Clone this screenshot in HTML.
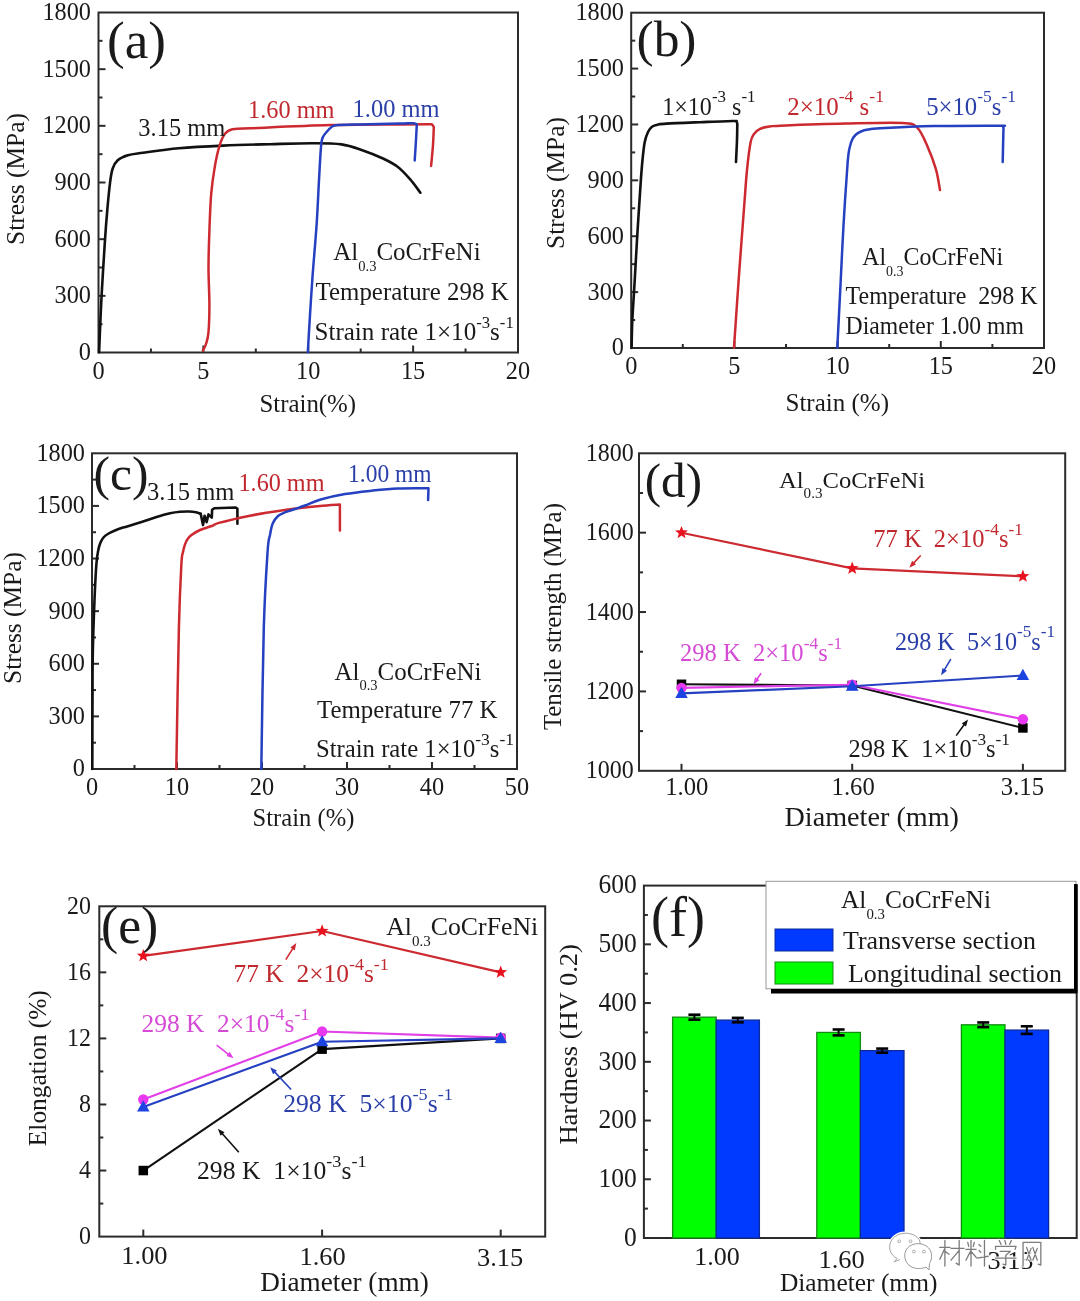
<!DOCTYPE html>
<html><head><meta charset="utf-8"><style>
html,body{margin:0;padding:0;background:#fff;}
svg{display:block;filter:blur(0.3px);}
text{font-family:"Liberation Serif", serif;}
</style></head><body>
<svg width="1080" height="1301" viewBox="0 0 1080 1301">
<rect width="1080" height="1301" fill="#fff"/>
<rect x="98.5" y="12.5" width="419.5" height="340.0" fill="none" stroke="#2b2b2b" stroke-width="2"/>
<line x1="98.50" y1="295.83" x2="105.50" y2="295.83" stroke="#2b2b2b" stroke-width="2"/>
<line x1="98.50" y1="239.17" x2="105.50" y2="239.17" stroke="#2b2b2b" stroke-width="2"/>
<line x1="98.50" y1="182.50" x2="105.50" y2="182.50" stroke="#2b2b2b" stroke-width="2"/>
<line x1="98.50" y1="125.83" x2="105.50" y2="125.83" stroke="#2b2b2b" stroke-width="2"/>
<line x1="98.50" y1="69.17" x2="105.50" y2="69.17" stroke="#2b2b2b" stroke-width="2"/>
<line x1="98.50" y1="324.17" x2="102.50" y2="324.17" stroke="#2b2b2b" stroke-width="2"/>
<line x1="98.50" y1="267.50" x2="102.50" y2="267.50" stroke="#2b2b2b" stroke-width="2"/>
<line x1="98.50" y1="210.83" x2="102.50" y2="210.83" stroke="#2b2b2b" stroke-width="2"/>
<line x1="98.50" y1="154.17" x2="102.50" y2="154.17" stroke="#2b2b2b" stroke-width="2"/>
<line x1="98.50" y1="97.50" x2="102.50" y2="97.50" stroke="#2b2b2b" stroke-width="2"/>
<line x1="98.50" y1="40.83" x2="102.50" y2="40.83" stroke="#2b2b2b" stroke-width="2"/>
<line x1="203.38" y1="352.50" x2="203.38" y2="345.50" stroke="#2b2b2b" stroke-width="2"/>
<line x1="308.25" y1="352.50" x2="308.25" y2="345.50" stroke="#2b2b2b" stroke-width="2"/>
<line x1="413.12" y1="352.50" x2="413.12" y2="345.50" stroke="#2b2b2b" stroke-width="2"/>
<line x1="150.94" y1="352.50" x2="150.94" y2="348.50" stroke="#2b2b2b" stroke-width="2"/>
<line x1="255.81" y1="352.50" x2="255.81" y2="348.50" stroke="#2b2b2b" stroke-width="2"/>
<line x1="360.69" y1="352.50" x2="360.69" y2="348.50" stroke="#2b2b2b" stroke-width="2"/>
<line x1="465.56" y1="352.50" x2="465.56" y2="348.50" stroke="#2b2b2b" stroke-width="2"/>
<text transform="translate(91.00,359.90) scale(1,1.03)" font-size="24.3" fill="#1a1a1a" text-anchor="end" >0</text>
<text transform="translate(91.00,303.23) scale(1,1.03)" font-size="24.3" fill="#1a1a1a" text-anchor="end" >300</text>
<text transform="translate(91.00,246.57) scale(1,1.03)" font-size="24.3" fill="#1a1a1a" text-anchor="end" >600</text>
<text transform="translate(91.00,189.90) scale(1,1.03)" font-size="24.3" fill="#1a1a1a" text-anchor="end" >900</text>
<text transform="translate(91.00,133.23) scale(1,1.03)" font-size="24.3" fill="#1a1a1a" text-anchor="end" >1200</text>
<text transform="translate(91.00,76.57) scale(1,1.03)" font-size="24.3" fill="#1a1a1a" text-anchor="end" >1500</text>
<text transform="translate(91.00,19.90) scale(1,1.03)" font-size="24.3" fill="#1a1a1a" text-anchor="end" >1800</text>
<text transform="translate(98.50,379.00) scale(1,1.03)" font-size="24.3" fill="#1a1a1a" text-anchor="middle" >0</text>
<text transform="translate(203.38,379.00) scale(1,1.03)" font-size="24.3" fill="#1a1a1a" text-anchor="middle" >5</text>
<text transform="translate(308.25,379.00) scale(1,1.03)" font-size="24.3" fill="#1a1a1a" text-anchor="middle" >10</text>
<text transform="translate(413.12,379.00) scale(1,1.03)" font-size="24.3" fill="#1a1a1a" text-anchor="middle" >15</text>
<text transform="translate(518.00,379.00) scale(1,1.03)" font-size="24.3" fill="#1a1a1a" text-anchor="middle" >20</text>
<text transform="translate(24,179) rotate(-90)" x="0" y="0" font-size="25" fill="#1a1a1a" text-anchor="middle" textLength="132" lengthAdjust="spacingAndGlyphs">Stress (MPa)</text>
<text transform="translate(259.40,411.70) scale(1,1.03)" font-size="25" fill="#1a1a1a" text-anchor="start" textLength="96.7" lengthAdjust="spacingAndGlyphs" >Strain(%)</text>
<text transform="translate(107.00,58.30) scale(1,1.03)" font-size="51.8" fill="#1a1a1a" text-anchor="start" textLength="59" lengthAdjust="spacingAndGlyphs" >(a)</text>
<path d="M99.10,352.20 C99.18,350.17 99.18,349.43 99.60,340.00 C100.02,330.57 100.70,312.30 101.60,295.60 C102.50,278.90 104.02,254.47 105.00,239.80 C105.98,225.13 106.65,217.18 107.50,207.60 C108.35,198.02 109.25,188.78 110.10,182.30 C110.95,175.82 111.33,172.37 112.60,168.70 C113.87,165.03 115.17,162.55 117.70,160.30 C120.23,158.05 123.58,156.47 127.80,155.20 C132.02,153.93 134.48,153.87 143.00,152.70 C151.52,151.53 165.52,149.38 178.90,148.20 C192.28,147.02 208.12,146.27 223.30,145.60 C238.48,144.93 255.18,144.58 270.00,144.20 C284.82,143.82 300.28,143.27 312.20,143.30 C324.12,143.33 333.15,143.25 341.50,144.40 C349.85,145.55 355.38,147.85 362.30,150.20 C369.22,152.55 377.12,155.73 383.00,158.50 C388.88,161.27 393.10,163.35 397.60,166.80 C402.10,170.25 406.20,174.88 410.00,179.20 C413.80,183.52 418.67,190.45 420.40,192.70" fill="none" stroke="#111" stroke-width="2.6" stroke-linejoin="round" stroke-linecap="round"/>
<path d="M202.90,350.60 C203.42,349.50 205.07,347.07 206.00,344.00 C206.93,340.93 207.93,338.78 208.50,332.20 C209.07,325.62 209.40,315.27 209.40,304.50 C209.40,293.73 208.50,279.90 208.50,267.60 C208.50,255.30 208.95,243.00 209.40,230.70 C209.85,218.40 210.28,204.57 211.20,193.80 C212.12,183.03 213.52,174.10 214.90,166.10 C216.28,158.10 217.82,151.18 219.50,145.80 C221.18,140.42 222.85,136.57 225.00,133.80 C227.15,131.03 228.23,130.12 232.40,129.20 C236.57,128.28 233.73,128.98 250.00,128.30 C266.27,127.62 305.00,125.75 330.00,125.10 C355.00,124.45 383.67,124.55 400.00,124.40 C416.33,124.25 422.67,124.17 428.00,124.20 C433.33,124.23 431.03,124.13 432.00,124.60 C432.97,125.07 433.50,126.60 433.80,127.00 C433.67,130.00 433.45,138.50 433.00,145.00 C432.55,151.50 431.42,162.50 431.10,166.00" fill="none" stroke="#cc2a30" stroke-width="2.5" stroke-linejoin="round" stroke-linecap="round"/>
<path d="M307.80,352.20 C308.17,346.00 309.22,327.57 310.00,315.00 C310.78,302.43 311.38,292.08 312.50,276.80 C313.62,261.52 315.62,239.43 316.70,223.30 C317.78,207.17 318.27,192.95 319.00,180.00 C319.73,167.05 320.43,152.77 321.10,145.60 C321.77,138.43 322.02,139.35 323.00,137.00 C323.98,134.65 325.67,133.08 327.00,131.50 C328.33,129.92 329.45,128.53 331.00,127.50 C332.55,126.47 331.47,125.82 336.30,125.30 C341.13,124.78 349.38,124.70 360.00,124.40 C370.62,124.10 391.08,123.70 400.00,123.50 C408.92,123.30 410.70,123.05 413.50,123.20 C416.30,123.35 416.25,124.20 416.80,124.40 C416.67,127.00 416.35,133.98 416.00,140.00 C415.65,146.02 414.92,157.08 414.70,160.50" fill="none" stroke="#2540c0" stroke-width="2.5" stroke-linejoin="round" stroke-linecap="round"/>
<text transform="translate(138.30,135.90) scale(1,1.03)" font-size="24" fill="#1a1a1a" text-anchor="start" textLength="87" lengthAdjust="spacingAndGlyphs" >3.15 mm</text>
<text transform="translate(248.00,118.10) scale(1,1.03)" font-size="24" fill="#c0282e" text-anchor="start" textLength="86.5" lengthAdjust="spacingAndGlyphs" >1.60 mm</text>
<text transform="translate(352.60,117.30) scale(1,1.03)" font-size="24" fill="#2a3fa8" text-anchor="start" textLength="87" lengthAdjust="spacingAndGlyphs" >1.00 mm</text>
<text transform="translate(333.20,260.20) scale(1,1.03)" font-size="24" fill="#1a1a1a" text-anchor="start" textLength="147.4" lengthAdjust="spacingAndGlyphs"><tspan dy="0" font-size="24">Al</tspan><tspan dy="10.5" font-size="14">0.3</tspan><tspan dy="-10.5" font-size="24">CoCrFeNi</tspan></text>
<text transform="translate(315.60,299.60) scale(1,1.03)" font-size="24" fill="#1a1a1a" text-anchor="start" textLength="193" lengthAdjust="spacingAndGlyphs" >Temperature 298 K</text>
<text transform="translate(314.50,340.10) scale(1,1.03)" font-size="24" fill="#1a1a1a" text-anchor="start" textLength="199.3" lengthAdjust="spacingAndGlyphs"><tspan dy="0" font-size="24">Strain rate 1×10</tspan><tspan dy="-12" font-size="16">-3</tspan><tspan dy="12" font-size="24">s</tspan><tspan dy="-12" font-size="16">-1</tspan></text>
<rect x="631.2" y="12.7" width="412.79999999999995" height="335.3" fill="none" stroke="#2b2b2b" stroke-width="2"/>
<line x1="631.20" y1="292.12" x2="638.20" y2="292.12" stroke="#2b2b2b" stroke-width="2"/>
<line x1="631.20" y1="236.23" x2="638.20" y2="236.23" stroke="#2b2b2b" stroke-width="2"/>
<line x1="631.20" y1="180.35" x2="638.20" y2="180.35" stroke="#2b2b2b" stroke-width="2"/>
<line x1="631.20" y1="124.47" x2="638.20" y2="124.47" stroke="#2b2b2b" stroke-width="2"/>
<line x1="631.20" y1="68.58" x2="638.20" y2="68.58" stroke="#2b2b2b" stroke-width="2"/>
<line x1="631.20" y1="320.06" x2="635.20" y2="320.06" stroke="#2b2b2b" stroke-width="2"/>
<line x1="631.20" y1="264.18" x2="635.20" y2="264.18" stroke="#2b2b2b" stroke-width="2"/>
<line x1="631.20" y1="208.29" x2="635.20" y2="208.29" stroke="#2b2b2b" stroke-width="2"/>
<line x1="631.20" y1="152.41" x2="635.20" y2="152.41" stroke="#2b2b2b" stroke-width="2"/>
<line x1="631.20" y1="96.53" x2="635.20" y2="96.53" stroke="#2b2b2b" stroke-width="2"/>
<line x1="631.20" y1="40.64" x2="635.20" y2="40.64" stroke="#2b2b2b" stroke-width="2"/>
<line x1="734.40" y1="348.00" x2="734.40" y2="341.00" stroke="#2b2b2b" stroke-width="2"/>
<line x1="837.60" y1="348.00" x2="837.60" y2="341.00" stroke="#2b2b2b" stroke-width="2"/>
<line x1="940.80" y1="348.00" x2="940.80" y2="341.00" stroke="#2b2b2b" stroke-width="2"/>
<line x1="682.80" y1="348.00" x2="682.80" y2="344.00" stroke="#2b2b2b" stroke-width="2"/>
<line x1="786.00" y1="348.00" x2="786.00" y2="344.00" stroke="#2b2b2b" stroke-width="2"/>
<line x1="889.20" y1="348.00" x2="889.20" y2="344.00" stroke="#2b2b2b" stroke-width="2"/>
<line x1="992.40" y1="348.00" x2="992.40" y2="344.00" stroke="#2b2b2b" stroke-width="2"/>
<text transform="translate(624.00,355.40) scale(1,1.03)" font-size="24.3" fill="#1a1a1a" text-anchor="end" >0</text>
<text transform="translate(624.00,299.52) scale(1,1.03)" font-size="24.3" fill="#1a1a1a" text-anchor="end" >300</text>
<text transform="translate(624.00,243.63) scale(1,1.03)" font-size="24.3" fill="#1a1a1a" text-anchor="end" >600</text>
<text transform="translate(624.00,187.75) scale(1,1.03)" font-size="24.3" fill="#1a1a1a" text-anchor="end" >900</text>
<text transform="translate(624.00,131.87) scale(1,1.03)" font-size="24.3" fill="#1a1a1a" text-anchor="end" >1200</text>
<text transform="translate(624.00,75.98) scale(1,1.03)" font-size="24.3" fill="#1a1a1a" text-anchor="end" >1500</text>
<text transform="translate(624.00,20.10) scale(1,1.03)" font-size="24.3" fill="#1a1a1a" text-anchor="end" >1800</text>
<text transform="translate(631.20,373.80) scale(1,1.03)" font-size="24.3" fill="#1a1a1a" text-anchor="middle" >0</text>
<text transform="translate(734.40,373.80) scale(1,1.03)" font-size="24.3" fill="#1a1a1a" text-anchor="middle" >5</text>
<text transform="translate(837.60,373.80) scale(1,1.03)" font-size="24.3" fill="#1a1a1a" text-anchor="middle" >10</text>
<text transform="translate(940.80,373.80) scale(1,1.03)" font-size="24.3" fill="#1a1a1a" text-anchor="middle" >15</text>
<text transform="translate(1044.00,373.80) scale(1,1.03)" font-size="24.3" fill="#1a1a1a" text-anchor="middle" >20</text>
<text transform="translate(563.5,183) rotate(-90)" x="0" y="0" font-size="25" fill="#1a1a1a" text-anchor="middle" textLength="132" lengthAdjust="spacingAndGlyphs">Stress (MPa)</text>
<text transform="translate(785.50,411.00) scale(1,1.03)" font-size="25" fill="#1a1a1a" text-anchor="start" textLength="103.5" lengthAdjust="spacingAndGlyphs" >Strain (%)</text>
<text transform="translate(636.50,56.30) scale(1,1.03)" font-size="49.7" fill="#1a1a1a" text-anchor="start" textLength="60" lengthAdjust="spacingAndGlyphs" >(b)</text>
<path d="M631.60,348.00 C631.72,343.47 631.85,330.88 632.30,320.80 C632.75,310.72 633.52,300.97 634.30,287.50 C635.08,274.03 635.95,257.28 637.00,240.00 C638.05,222.72 639.68,197.13 640.60,183.80 C641.52,170.47 641.82,166.92 642.50,160.00 C643.18,153.08 643.78,146.97 644.70,142.30 C645.62,137.63 646.78,134.60 648.00,132.00 C649.22,129.40 650.33,127.93 652.00,126.70 C653.67,125.47 655.58,125.12 658.00,124.60 C660.42,124.08 659.50,124.00 666.50,123.60 C673.50,123.20 688.92,122.63 700.00,122.20 C711.08,121.77 726.95,121.10 733.00,121.00 C739.05,120.90 735.58,121.18 736.30,121.60 C737.02,122.02 737.13,123.18 737.30,123.50 C737.25,126.25 737.22,133.58 737.00,140.00 C736.78,146.42 736.17,158.33 736.00,162.00" fill="none" stroke="#111" stroke-width="2.6" stroke-linejoin="round" stroke-linecap="round"/>
<path d="M734.00,347.70 C734.83,335.58 737.28,298.87 739.00,275.00 C740.72,251.13 742.97,222.00 744.30,204.50 C745.63,187.00 745.95,180.37 747.00,170.00 C748.05,159.63 749.43,148.30 750.60,142.30 C751.77,136.30 752.43,136.25 754.00,134.00 C755.57,131.75 757.33,130.05 760.00,128.80 C762.67,127.55 766.55,127.02 770.00,126.50 C773.45,125.98 768.20,126.18 780.70,125.70 C793.20,125.22 824.68,124.05 845.00,123.60 C865.32,123.15 890.57,122.32 902.60,123.00 C914.63,123.68 913.05,123.80 917.20,127.70 C921.35,131.60 924.38,139.48 927.50,146.40 C930.62,153.32 933.82,161.93 935.90,169.20 C937.98,176.47 939.32,186.53 940.00,190.00" fill="none" stroke="#cc2a30" stroke-width="2.5" stroke-linejoin="round" stroke-linecap="round"/>
<path d="M837.30,347.70 C837.83,337.25 839.47,305.40 840.50,285.00 C841.53,264.60 842.32,245.63 843.50,225.30 C844.68,204.97 846.55,176.05 847.60,163.00 C848.65,149.95 848.98,151.00 849.80,147.00 C850.62,143.00 851.47,141.08 852.50,139.00 C853.53,136.92 854.58,135.75 856.00,134.50 C857.42,133.25 859.00,132.32 861.00,131.50 C863.00,130.68 864.83,130.13 868.00,129.60 C871.17,129.07 869.03,128.88 880.00,128.30 C890.97,127.72 913.97,126.53 933.80,126.10 C953.63,125.67 987.55,125.68 999.00,125.70 C1010.45,125.72 1001.75,125.82 1002.50,126.20 C1003.25,126.58 1003.33,127.70 1003.50,128.00 C1003.45,130.00 1003.33,134.33 1003.20,140.00 C1003.07,145.67 1002.78,158.33 1002.70,162.00" fill="none" stroke="#2540c0" stroke-width="2.5" stroke-linejoin="round" stroke-linecap="round"/>
<text transform="translate(662.30,114.50) scale(1,1.03)" font-size="24" fill="#1a1a1a" text-anchor="start" textLength="93.3" lengthAdjust="spacingAndGlyphs"><tspan dy="0" font-size="24">1×10</tspan><tspan dy="-12" font-size="17">-3</tspan><tspan dy="12" font-size="24"> s</tspan><tspan dy="-12" font-size="17">-1</tspan></text>
<text transform="translate(787.20,114.50) scale(1,1.03)" font-size="24" fill="#c0282e" text-anchor="start" textLength="96.8" lengthAdjust="spacingAndGlyphs"><tspan dy="0" font-size="24">2×10</tspan><tspan dy="-12" font-size="17">-4</tspan><tspan dy="12" font-size="24"> s</tspan><tspan dy="-12" font-size="17">-1</tspan></text>
<text transform="translate(926.20,114.50) scale(1,1.03)" font-size="24" fill="#2a3fa8" text-anchor="start" textLength="89.8" lengthAdjust="spacingAndGlyphs"><tspan dy="0" font-size="24">5×10</tspan><tspan dy="-12" font-size="17">-5</tspan><tspan dy="12" font-size="24">s</tspan><tspan dy="-12" font-size="17">-1</tspan></text>
<text transform="translate(862.20,264.70) scale(1,1.03)" font-size="24" fill="#1a1a1a" text-anchor="start" textLength="141" lengthAdjust="spacingAndGlyphs"><tspan dy="0" font-size="24">Al</tspan><tspan dy="10.5" font-size="14">0.3</tspan><tspan dy="-10.5" font-size="24">CoCrFeNi</tspan></text>
<text transform="translate(845.60,304.20) scale(1,1.03)" font-size="24" fill="#1a1a1a" text-anchor="start" textLength="192" lengthAdjust="spacingAndGlyphs" >Temperature  298 K</text>
<text transform="translate(845.60,333.60) scale(1,1.03)" font-size="24" fill="#1a1a1a" text-anchor="start" textLength="178.4" lengthAdjust="spacingAndGlyphs" >Diameter 1.00 mm</text>
<rect x="92.0" y="453.3" width="425.0" height="315.7" fill="none" stroke="#2b2b2b" stroke-width="2"/>
<line x1="92.00" y1="716.38" x2="99.00" y2="716.38" stroke="#2b2b2b" stroke-width="2"/>
<line x1="92.00" y1="663.77" x2="99.00" y2="663.77" stroke="#2b2b2b" stroke-width="2"/>
<line x1="92.00" y1="611.15" x2="99.00" y2="611.15" stroke="#2b2b2b" stroke-width="2"/>
<line x1="92.00" y1="558.53" x2="99.00" y2="558.53" stroke="#2b2b2b" stroke-width="2"/>
<line x1="92.00" y1="505.92" x2="99.00" y2="505.92" stroke="#2b2b2b" stroke-width="2"/>
<line x1="92.00" y1="742.69" x2="96.00" y2="742.69" stroke="#2b2b2b" stroke-width="2"/>
<line x1="92.00" y1="690.08" x2="96.00" y2="690.08" stroke="#2b2b2b" stroke-width="2"/>
<line x1="92.00" y1="637.46" x2="96.00" y2="637.46" stroke="#2b2b2b" stroke-width="2"/>
<line x1="92.00" y1="584.84" x2="96.00" y2="584.84" stroke="#2b2b2b" stroke-width="2"/>
<line x1="92.00" y1="532.23" x2="96.00" y2="532.23" stroke="#2b2b2b" stroke-width="2"/>
<line x1="92.00" y1="479.61" x2="96.00" y2="479.61" stroke="#2b2b2b" stroke-width="2"/>
<line x1="177.00" y1="769.00" x2="177.00" y2="762.00" stroke="#2b2b2b" stroke-width="2"/>
<line x1="262.00" y1="769.00" x2="262.00" y2="762.00" stroke="#2b2b2b" stroke-width="2"/>
<line x1="347.00" y1="769.00" x2="347.00" y2="762.00" stroke="#2b2b2b" stroke-width="2"/>
<line x1="432.00" y1="769.00" x2="432.00" y2="762.00" stroke="#2b2b2b" stroke-width="2"/>
<line x1="134.50" y1="769.00" x2="134.50" y2="765.00" stroke="#2b2b2b" stroke-width="2"/>
<line x1="219.50" y1="769.00" x2="219.50" y2="765.00" stroke="#2b2b2b" stroke-width="2"/>
<line x1="304.50" y1="769.00" x2="304.50" y2="765.00" stroke="#2b2b2b" stroke-width="2"/>
<line x1="389.50" y1="769.00" x2="389.50" y2="765.00" stroke="#2b2b2b" stroke-width="2"/>
<line x1="474.50" y1="769.00" x2="474.50" y2="765.00" stroke="#2b2b2b" stroke-width="2"/>
<text transform="translate(85.00,776.40) scale(1,1.03)" font-size="24.3" fill="#1a1a1a" text-anchor="end" >0</text>
<text transform="translate(85.00,723.78) scale(1,1.03)" font-size="24.3" fill="#1a1a1a" text-anchor="end" >300</text>
<text transform="translate(85.00,671.17) scale(1,1.03)" font-size="24.3" fill="#1a1a1a" text-anchor="end" >600</text>
<text transform="translate(85.00,618.55) scale(1,1.03)" font-size="24.3" fill="#1a1a1a" text-anchor="end" >900</text>
<text transform="translate(85.00,565.93) scale(1,1.03)" font-size="24.3" fill="#1a1a1a" text-anchor="end" >1200</text>
<text transform="translate(85.00,513.32) scale(1,1.03)" font-size="24.3" fill="#1a1a1a" text-anchor="end" >1500</text>
<text transform="translate(85.00,460.70) scale(1,1.03)" font-size="24.3" fill="#1a1a1a" text-anchor="end" >1800</text>
<text transform="translate(92.00,795.00) scale(1,1.03)" font-size="24.3" fill="#1a1a1a" text-anchor="middle" >0</text>
<text transform="translate(177.00,795.00) scale(1,1.03)" font-size="24.3" fill="#1a1a1a" text-anchor="middle" >10</text>
<text transform="translate(262.00,795.00) scale(1,1.03)" font-size="24.3" fill="#1a1a1a" text-anchor="middle" >20</text>
<text transform="translate(347.00,795.00) scale(1,1.03)" font-size="24.3" fill="#1a1a1a" text-anchor="middle" >30</text>
<text transform="translate(432.00,795.00) scale(1,1.03)" font-size="24.3" fill="#1a1a1a" text-anchor="middle" >40</text>
<text transform="translate(517.00,795.00) scale(1,1.03)" font-size="24.3" fill="#1a1a1a" text-anchor="middle" >50</text>
<text transform="translate(21,618) rotate(-90)" x="0" y="0" font-size="25" fill="#1a1a1a" text-anchor="middle" textLength="132" lengthAdjust="spacingAndGlyphs">Stress (MPa)</text>
<text transform="translate(252.60,826.20) scale(1,1.03)" font-size="25" fill="#1a1a1a" text-anchor="start" textLength="101.8" lengthAdjust="spacingAndGlyphs" >Strain (%)</text>
<text transform="translate(93.60,490.30) scale(1,1.03)" font-size="48" fill="#1a1a1a" text-anchor="start" textLength="55" lengthAdjust="spacingAndGlyphs" >(c)</text>
<path d="M92.30,769.00 C92.33,757.50 92.42,719.33 92.50,700.00 C92.58,680.67 92.47,669.67 92.80,653.00 C93.13,636.33 93.90,614.83 94.50,600.00 C95.10,585.17 95.77,572.33 96.40,564.00 C97.03,555.67 97.62,553.58 98.30,550.00 C98.98,546.42 99.63,544.58 100.50,542.50 C101.37,540.42 102.28,538.92 103.50,537.50 C104.72,536.08 105.88,535.17 107.80,534.00 C109.72,532.83 112.47,531.57 115.00,530.50 C117.53,529.43 119.67,528.68 123.00,527.60 C126.33,526.52 130.77,525.30 135.00,524.00 C139.23,522.70 144.23,521.13 148.40,519.80 C152.57,518.47 156.40,517.08 160.00,516.00 C163.60,514.92 166.67,514.00 170.00,513.30 C173.33,512.60 176.83,512.10 180.00,511.80 C183.17,511.50 186.33,511.42 189.00,511.50 C191.67,511.58 194.05,511.92 196.00,512.30 C197.95,512.68 199.92,513.55 200.70,513.80" fill="none" stroke="#111" stroke-width="2.6" stroke-linejoin="round" stroke-linecap="round"/>
<path d="M200.70,513.80 L203.00,525.10 L204.60,515.70 L206.60,522.20 L208.50,514.40 L210.50,516.40 L211.80,517.70 L212.10,509.90 L214.30,508.30 L235.70,507.50 L237.40,508.50 L237.40,523.80" fill="none" stroke="#111" stroke-width="2.6" stroke-linejoin="round" stroke-linecap="round"/>
<path d="M176.30,769.00 C176.73,745.43 178.05,661.73 178.90,627.60 C179.75,593.47 180.72,576.80 181.40,564.20 C182.08,551.60 182.37,555.38 183.00,552.00 C183.63,548.62 184.37,546.15 185.20,543.90 C186.03,541.65 186.95,539.98 188.00,538.50 C189.05,537.02 189.50,536.42 191.50,535.00 C193.50,533.58 196.62,531.50 200.00,530.00 C203.38,528.50 208.65,527.18 211.80,526.00 C214.95,524.82 212.53,524.62 218.90,522.90 C225.27,521.18 240.65,517.60 250.00,515.70 C259.35,513.80 266.63,512.78 275.00,511.50 C283.37,510.22 292.70,508.92 300.20,508.00 C307.70,507.08 313.38,506.57 320.00,506.00 C326.62,505.43 336.58,504.83 339.90,504.60 C339.90,508.92 339.90,526.18 339.90,530.50" fill="none" stroke="#cc2a30" stroke-width="2.5" stroke-linejoin="round" stroke-linecap="round"/>
<path d="M261.30,769.00 C261.72,745.43 262.75,663.85 263.80,627.60 C264.85,591.35 266.57,566.93 267.60,551.50 C268.63,536.07 269.15,539.65 270.00,535.00 C270.85,530.35 271.37,526.77 272.70,523.60 C274.03,520.43 275.88,517.90 278.00,516.00 C280.12,514.10 282.57,513.37 285.40,512.20 C288.23,511.03 291.73,510.12 295.00,509.00 C298.27,507.88 300.73,507.08 305.00,505.50 C309.27,503.92 313.93,501.42 320.60,499.50 C327.27,497.58 336.52,495.47 345.00,494.00 C353.48,492.53 362.67,491.62 371.50,490.70 C380.33,489.78 388.50,488.90 398.00,488.50 C407.50,488.10 423.42,488.33 428.50,488.30 C428.43,490.23 428.17,497.97 428.10,499.90" fill="none" stroke="#2540c0" stroke-width="2.5" stroke-linejoin="round" stroke-linecap="round"/>
<text transform="translate(147.00,499.80) scale(1,1.03)" font-size="24" fill="#1a1a1a" text-anchor="start" textLength="87.5" lengthAdjust="spacingAndGlyphs" >3.15 mm</text>
<text transform="translate(238.50,490.60) scale(1,1.03)" font-size="24" fill="#c0282e" text-anchor="start" textLength="86" lengthAdjust="spacingAndGlyphs" >1.60 mm</text>
<text transform="translate(348.00,482.20) scale(1,1.03)" font-size="24" fill="#2a3fa8" text-anchor="start" textLength="83.6" lengthAdjust="spacingAndGlyphs" >1.00 mm</text>
<text transform="translate(334.50,679.50) scale(1,1.03)" font-size="24" fill="#1a1a1a" text-anchor="start" textLength="147" lengthAdjust="spacingAndGlyphs"><tspan dy="0" font-size="24">Al</tspan><tspan dy="10.5" font-size="14">0.3</tspan><tspan dy="-10.5" font-size="24">CoCrFeNi</tspan></text>
<text transform="translate(317.00,718.20) scale(1,1.03)" font-size="24" fill="#1a1a1a" text-anchor="start" textLength="180.5" lengthAdjust="spacingAndGlyphs" >Temperature 77 K</text>
<text transform="translate(316.00,757.00) scale(1,1.03)" font-size="24" fill="#1a1a1a" text-anchor="start" textLength="198" lengthAdjust="spacingAndGlyphs"><tspan dy="0" font-size="24">Strain rate 1×10</tspan><tspan dy="-12" font-size="17">-3</tspan><tspan dy="12" font-size="24">s</tspan><tspan dy="-12" font-size="17">-1</tspan></text>
<rect x="639.0" y="453.3" width="426.20000000000005" height="317.49999999999994" fill="none" stroke="#2b2b2b" stroke-width="2"/>
<line x1="639.00" y1="691.42" x2="646.00" y2="691.42" stroke="#2b2b2b" stroke-width="2"/>
<line x1="639.00" y1="612.05" x2="646.00" y2="612.05" stroke="#2b2b2b" stroke-width="2"/>
<line x1="639.00" y1="532.67" x2="646.00" y2="532.67" stroke="#2b2b2b" stroke-width="2"/>
<line x1="639.00" y1="731.11" x2="643.00" y2="731.11" stroke="#2b2b2b" stroke-width="2"/>
<line x1="639.00" y1="651.74" x2="643.00" y2="651.74" stroke="#2b2b2b" stroke-width="2"/>
<line x1="639.00" y1="572.36" x2="643.00" y2="572.36" stroke="#2b2b2b" stroke-width="2"/>
<line x1="639.00" y1="492.99" x2="643.00" y2="492.99" stroke="#2b2b2b" stroke-width="2"/>
<line x1="681.50" y1="770.80" x2="681.50" y2="763.80" stroke="#2b2b2b" stroke-width="2"/>
<line x1="852.20" y1="770.80" x2="852.20" y2="763.80" stroke="#2b2b2b" stroke-width="2"/>
<line x1="1022.90" y1="770.80" x2="1022.90" y2="763.80" stroke="#2b2b2b" stroke-width="2"/>
<text transform="translate(633.80,778.40) scale(1,1.03)" font-size="24.0" fill="#1a1a1a" text-anchor="end" >1000</text>
<text transform="translate(633.80,699.02) scale(1,1.03)" font-size="24.0" fill="#1a1a1a" text-anchor="end" >1200</text>
<text transform="translate(633.80,619.65) scale(1,1.03)" font-size="24.0" fill="#1a1a1a" text-anchor="end" >1400</text>
<text transform="translate(633.80,540.27) scale(1,1.03)" font-size="24.0" fill="#1a1a1a" text-anchor="end" >1600</text>
<text transform="translate(633.80,460.90) scale(1,1.03)" font-size="24.0" fill="#1a1a1a" text-anchor="end" >1800</text>
<text transform="translate(665.20,794.70) scale(1,1.03)" font-size="24" fill="#1a1a1a" text-anchor="start" textLength="43.2" lengthAdjust="spacingAndGlyphs" >1.00</text>
<text transform="translate(831.60,794.70) scale(1,1.03)" font-size="24" fill="#1a1a1a" text-anchor="start" textLength="43.2" lengthAdjust="spacingAndGlyphs" >1.60</text>
<text transform="translate(1000.80,794.70) scale(1,1.03)" font-size="24" fill="#1a1a1a" text-anchor="start" textLength="43.2" lengthAdjust="spacingAndGlyphs" >3.15</text>
<text transform="translate(560.5,616.6) rotate(-90)" x="0" y="0" font-size="25" fill="#1a1a1a" text-anchor="middle" textLength="227" lengthAdjust="spacingAndGlyphs">Tensile strength (MPa)</text>
<text transform="translate(784.50,825.70) scale(1,1.03)" font-size="26" fill="#1a1a1a" text-anchor="start" textLength="174.5" lengthAdjust="spacingAndGlyphs" >Diameter (mm)</text>
<text transform="translate(644.70,496.90) scale(1,1.03)" font-size="48" fill="#1a1a1a" text-anchor="start" textLength="57.3" lengthAdjust="spacingAndGlyphs" >(d)</text>
<text transform="translate(779.00,487.50) scale(1,1.03)" font-size="22" fill="#1a1a1a" text-anchor="start" textLength="146" lengthAdjust="spacingAndGlyphs"><tspan dy="0" font-size="22">Al</tspan><tspan dy="10" font-size="13.5">0.3</tspan><tspan dy="-10" font-size="22">CoCrFeNi</tspan></text>
<path d="M681.50,532.67 L852.20,568.39 L1022.90,576.33" fill="none" stroke="#cc2a30" stroke-width="2.1" stroke-linejoin="round" stroke-linecap="round"/>
<polygon points="681.50,525.88 683.18,530.36 687.97,530.57 684.22,533.56 685.50,538.18 681.50,535.53 677.50,538.18 678.78,533.56 675.03,530.57 679.82,530.36" fill="#e8121e"/>
<polygon points="852.20,561.59 853.88,566.08 858.67,566.29 854.92,569.28 856.20,573.90 852.20,571.25 848.20,573.90 849.48,569.28 845.73,566.29 850.52,566.08" fill="#e8121e"/>
<polygon points="1022.90,569.53 1024.58,574.02 1029.37,574.23 1025.62,577.21 1026.90,581.83 1022.90,579.19 1018.90,581.83 1020.18,577.21 1016.43,574.23 1021.22,574.02" fill="#e8121e"/>
<path d="M681.50,684.28 L852.20,685.47 L1022.90,727.94" fill="none" stroke="#111" stroke-width="2.1" stroke-linejoin="round" stroke-linecap="round"/>
<rect x="676.75" y="679.53" width="9.5" height="9.5" fill="#000"/>
<rect x="847.45" y="680.72" width="9.5" height="9.5" fill="#000"/>
<rect x="1018.15" y="723.19" width="9.5" height="9.5" fill="#000"/>
<path d="M681.50,687.85 L852.20,684.68 L1022.90,719.21" fill="none" stroke="#e040e6" stroke-width="2.1" stroke-linejoin="round" stroke-linecap="round"/>
<circle cx="681.50" cy="687.85" r="5.2" fill="#e838f0"/>
<circle cx="852.20" cy="684.68" r="5.2" fill="#e838f0"/>
<circle cx="1022.90" cy="719.21" r="5.2" fill="#e838f0"/>
<path d="M681.50,693.41 L852.20,686.27 L1022.90,675.55" fill="none" stroke="#2540c0" stroke-width="2.1" stroke-linejoin="round" stroke-linecap="round"/>
<polygon points="681.50,686.66 687.75,697.91 675.25,697.91" fill="#1d44e0"/>
<polygon points="852.20,679.52 858.45,690.77 845.95,690.77" fill="#1d44e0"/>
<polygon points="1022.90,668.80 1029.15,680.05 1016.65,680.05" fill="#1d44e0"/>
<text transform="translate(873.30,547.30) scale(1,1.03)" font-size="24" fill="#c0282e" text-anchor="start" textLength="149.6" lengthAdjust="spacingAndGlyphs"><tspan dy="0" font-size="24">77 K  2×10</tspan><tspan dy="-12" font-size="17">-4</tspan><tspan dy="12" font-size="24">s</tspan><tspan dy="-12" font-size="17">-1</tspan></text>
<line x1="920.70" y1="555.50" x2="913.38" y2="563.40" stroke="#cc2a30" stroke-width="1.6"/>
<polygon points="909.30,567.80 912.11,560.86 916.01,564.47" fill="#cc2a30"/>
<text transform="translate(894.90,649.50) scale(1,1.03)" font-size="24" fill="#2a3fa8" text-anchor="start" textLength="160.2" lengthAdjust="spacingAndGlyphs"><tspan dy="0" font-size="24">298 K  5×10</tspan><tspan dy="-12" font-size="17">-5</tspan><tspan dy="12" font-size="24">s</tspan><tspan dy="-12" font-size="17">-1</tspan></text>
<line x1="950.80" y1="659.20" x2="944.20" y2="670.16" stroke="#2540c0" stroke-width="1.6"/>
<polygon points="941.10,675.30 942.43,667.93 946.99,670.68" fill="#2540c0"/>
<text transform="translate(680.00,661.10) scale(1,1.03)" font-size="24" fill="#d54bd5" text-anchor="start" textLength="162.2" lengthAdjust="spacingAndGlyphs"><tspan dy="0" font-size="24">298 K  2×10</tspan><tspan dy="-12" font-size="17">-4</tspan><tspan dy="12" font-size="24">s</tspan><tspan dy="-12" font-size="17">-1</tspan></text>
<line x1="761.10" y1="673.30" x2="756.75" y2="679.49" stroke="#e040e6" stroke-width="1.6"/>
<polygon points="753.30,684.40 755.15,677.14 759.50,680.20" fill="#e040e6"/>
<text transform="translate(848.60,757.10) scale(1,1.03)" font-size="24" fill="#1a1a1a" text-anchor="start" textLength="161.4" lengthAdjust="spacingAndGlyphs"><tspan dy="0" font-size="24">298 K  1×10</tspan><tspan dy="-12" font-size="17">-3</tspan><tspan dy="12" font-size="24">s</tspan><tspan dy="-12" font-size="17">-1</tspan></text>
<line x1="956.20" y1="735.60" x2="964.47" y2="724.25" stroke="#111" stroke-width="1.6"/>
<polygon points="968.00,719.40 966.03,726.62 961.73,723.49" fill="#111"/>
<rect x="99.3" y="906.3" width="445.90000000000003" height="330.29999999999995" fill="none" stroke="#2b2b2b" stroke-width="2"/>
<line x1="99.30" y1="1170.54" x2="106.30" y2="1170.54" stroke="#2b2b2b" stroke-width="2"/>
<line x1="99.30" y1="1104.48" x2="106.30" y2="1104.48" stroke="#2b2b2b" stroke-width="2"/>
<line x1="99.30" y1="1038.42" x2="106.30" y2="1038.42" stroke="#2b2b2b" stroke-width="2"/>
<line x1="99.30" y1="972.36" x2="106.30" y2="972.36" stroke="#2b2b2b" stroke-width="2"/>
<line x1="99.30" y1="1203.57" x2="103.30" y2="1203.57" stroke="#2b2b2b" stroke-width="2"/>
<line x1="99.30" y1="1137.51" x2="103.30" y2="1137.51" stroke="#2b2b2b" stroke-width="2"/>
<line x1="99.30" y1="1071.45" x2="103.30" y2="1071.45" stroke="#2b2b2b" stroke-width="2"/>
<line x1="99.30" y1="1005.39" x2="103.30" y2="1005.39" stroke="#2b2b2b" stroke-width="2"/>
<line x1="99.30" y1="939.33" x2="103.30" y2="939.33" stroke="#2b2b2b" stroke-width="2"/>
<line x1="143.30" y1="1236.60" x2="143.30" y2="1229.60" stroke="#2b2b2b" stroke-width="2"/>
<line x1="322.10" y1="1236.60" x2="322.10" y2="1229.60" stroke="#2b2b2b" stroke-width="2"/>
<line x1="500.70" y1="1236.60" x2="500.70" y2="1229.60" stroke="#2b2b2b" stroke-width="2"/>
<text transform="translate(90.90,1244.10) scale(1,1.03)" font-size="24.0" fill="#1a1a1a" text-anchor="end" >0</text>
<text transform="translate(90.90,1178.04) scale(1,1.03)" font-size="24.0" fill="#1a1a1a" text-anchor="end" >4</text>
<text transform="translate(90.90,1111.98) scale(1,1.03)" font-size="24.0" fill="#1a1a1a" text-anchor="end" >8</text>
<text transform="translate(90.90,1045.92) scale(1,1.03)" font-size="24.0" fill="#1a1a1a" text-anchor="end" >12</text>
<text transform="translate(90.90,979.86) scale(1,1.03)" font-size="24.0" fill="#1a1a1a" text-anchor="end" >16</text>
<text transform="translate(90.90,913.80) scale(1,1.03)" font-size="24.0" fill="#1a1a1a" text-anchor="end" >20</text>
<text transform="translate(121.30,1263.50) scale(1,1.03)" font-size="25" fill="#1a1a1a" text-anchor="start" textLength="46.3" lengthAdjust="spacingAndGlyphs" >1.00</text>
<text transform="translate(299.40,1264.80) scale(1,1.03)" font-size="25" fill="#1a1a1a" text-anchor="start" textLength="46.3" lengthAdjust="spacingAndGlyphs" >1.60</text>
<text transform="translate(477.00,1266.00) scale(1,1.03)" font-size="25" fill="#1a1a1a" text-anchor="start" textLength="46.3" lengthAdjust="spacingAndGlyphs" >3.15</text>
<text transform="translate(45.8,1068.2) rotate(-90)" x="0" y="0" font-size="25" fill="#1a1a1a" text-anchor="middle" textLength="156" lengthAdjust="spacingAndGlyphs">Elongation (%)</text>
<text transform="translate(260.30,1290.90) scale(1,1.03)" font-size="26" fill="#1a1a1a" text-anchor="start" textLength="168.5" lengthAdjust="spacingAndGlyphs" >Diameter (mm)</text>
<text transform="translate(101.00,943.40) scale(1,1.03)" font-size="51.4" fill="#1a1a1a" text-anchor="start" textLength="57.3" lengthAdjust="spacingAndGlyphs" >(e)</text>
<text transform="translate(386.20,935.30) scale(1,1.03)" font-size="24" fill="#1a1a1a" text-anchor="start" textLength="152" lengthAdjust="spacingAndGlyphs"><tspan dy="0" font-size="24">Al</tspan><tspan dy="10.5" font-size="14">0.3</tspan><tspan dy="-10.5" font-size="24">CoCrFeNi</tspan></text>
<path d="M143.30,955.84 L322.10,931.07 L500.70,972.36" fill="none" stroke="#cc2a30" stroke-width="2.1" stroke-linejoin="round" stroke-linecap="round"/>
<polygon points="143.30,949.04 144.98,953.53 149.77,953.74 146.02,956.73 147.30,961.35 143.30,958.70 139.30,961.35 140.58,956.73 136.83,953.74 141.62,953.53" fill="#e8121e"/>
<polygon points="322.10,924.27 323.78,928.76 328.57,928.97 324.82,931.96 326.10,936.57 322.10,933.93 318.10,936.57 319.38,931.96 315.63,928.97 320.42,928.76" fill="#e8121e"/>
<polygon points="500.70,965.56 502.38,970.05 507.17,970.26 503.42,973.24 504.70,977.86 500.70,975.22 496.70,977.86 497.98,973.24 494.23,970.26 499.02,970.05" fill="#e8121e"/>
<path d="M143.30,1170.54 L322.10,1049.15 L500.70,1038.42" fill="none" stroke="#111" stroke-width="2.1" stroke-linejoin="round" stroke-linecap="round"/>
<rect x="138.55" y="1165.79" width="9.5" height="9.5" fill="#000"/>
<rect x="317.35" y="1044.40" width="9.5" height="9.5" fill="#000"/>
<rect x="495.95" y="1033.67" width="9.5" height="9.5" fill="#000"/>
<path d="M143.30,1099.53 L322.10,1031.48 L500.70,1037.59" fill="none" stroke="#e040e6" stroke-width="2.1" stroke-linejoin="round" stroke-linecap="round"/>
<circle cx="143.30" cy="1099.53" r="5.2" fill="#e838f0"/>
<circle cx="322.10" cy="1031.48" r="5.2" fill="#e838f0"/>
<circle cx="500.70" cy="1037.59" r="5.2" fill="#e838f0"/>
<path d="M143.30,1106.96 L322.10,1041.72 L500.70,1038.42" fill="none" stroke="#2540c0" stroke-width="2.1" stroke-linejoin="round" stroke-linecap="round"/>
<polygon points="143.30,1100.21 149.55,1111.46 137.05,1111.46" fill="#1d44e0"/>
<polygon points="322.10,1034.97 328.35,1046.22 315.85,1046.22" fill="#1d44e0"/>
<polygon points="500.70,1031.67 506.95,1042.92 494.45,1042.92" fill="#1d44e0"/>
<text transform="translate(233.60,982.40) scale(1,1.03)" font-size="24" fill="#c0282e" text-anchor="start" textLength="155.2" lengthAdjust="spacingAndGlyphs"><tspan dy="0" font-size="24">77 K  2×10</tspan><tspan dy="-12" font-size="17">-4</tspan><tspan dy="12" font-size="24">s</tspan><tspan dy="-12" font-size="17">-1</tspan></text>
<line x1="285.80" y1="959.60" x2="293.08" y2="948.16" stroke="#cc2a30" stroke-width="1.6"/>
<polygon points="296.30,943.10 294.79,950.43 290.30,947.58" fill="#cc2a30"/>
<text transform="translate(141.50,1032.00) scale(1,1.03)" font-size="24" fill="#d54bd5" text-anchor="start" textLength="167.9" lengthAdjust="spacingAndGlyphs"><tspan dy="0" font-size="24">298 K  2×10</tspan><tspan dy="-12" font-size="17">-4</tspan><tspan dy="12" font-size="24">s</tspan><tspan dy="-12" font-size="17">-1</tspan></text>
<line x1="216.60" y1="1045.10" x2="228.85" y2="1054.54" stroke="#e040e6" stroke-width="1.6"/>
<polygon points="233.60,1058.20 226.43,1056.03 229.68,1051.82" fill="#e040e6"/>
<text transform="translate(283.20,1112.40) scale(1,1.03)" font-size="24" fill="#2a3fa8" text-anchor="start" textLength="169.6" lengthAdjust="spacingAndGlyphs"><tspan dy="0" font-size="24">298 K  5×10</tspan><tspan dy="-12" font-size="17">-5</tspan><tspan dy="12" font-size="24">s</tspan><tspan dy="-12" font-size="17">-1</tspan></text>
<line x1="291.10" y1="1089.50" x2="274.31" y2="1071.67" stroke="#2540c0" stroke-width="1.6"/>
<polygon points="270.20,1067.30 276.94,1070.57 273.06,1074.22" fill="#2540c0"/>
<text transform="translate(197.00,1179.40) scale(1,1.03)" font-size="24" fill="#1a1a1a" text-anchor="start" textLength="169.6" lengthAdjust="spacingAndGlyphs"><tspan dy="0" font-size="24">298 K  1×10</tspan><tspan dy="-12" font-size="17">-3</tspan><tspan dy="12" font-size="24">s</tspan><tspan dy="-12" font-size="17">-1</tspan></text>
<line x1="238.80" y1="1152.30" x2="221.89" y2="1133.28" stroke="#111" stroke-width="1.6"/>
<polygon points="217.90,1128.80 224.54,1132.26 220.56,1135.80" fill="#111"/>
<rect x="643.9" y="885.6" width="432.80000000000007" height="352.4" fill="none" stroke="#2b2b2b" stroke-width="2"/>
<line x1="643.90" y1="1179.27" x2="650.90" y2="1179.27" stroke="#2b2b2b" stroke-width="2"/>
<line x1="643.90" y1="1120.53" x2="650.90" y2="1120.53" stroke="#2b2b2b" stroke-width="2"/>
<line x1="643.90" y1="1061.80" x2="650.90" y2="1061.80" stroke="#2b2b2b" stroke-width="2"/>
<line x1="643.90" y1="1003.07" x2="650.90" y2="1003.07" stroke="#2b2b2b" stroke-width="2"/>
<line x1="643.90" y1="944.33" x2="650.90" y2="944.33" stroke="#2b2b2b" stroke-width="2"/>
<line x1="643.90" y1="1208.63" x2="647.90" y2="1208.63" stroke="#2b2b2b" stroke-width="2"/>
<line x1="643.90" y1="1149.90" x2="647.90" y2="1149.90" stroke="#2b2b2b" stroke-width="2"/>
<line x1="643.90" y1="1091.17" x2="647.90" y2="1091.17" stroke="#2b2b2b" stroke-width="2"/>
<line x1="643.90" y1="1032.43" x2="647.90" y2="1032.43" stroke="#2b2b2b" stroke-width="2"/>
<line x1="643.90" y1="973.70" x2="647.90" y2="973.70" stroke="#2b2b2b" stroke-width="2"/>
<line x1="643.90" y1="914.97" x2="647.90" y2="914.97" stroke="#2b2b2b" stroke-width="2"/>
<text transform="translate(636.80,1245.80) scale(1,1.03)" font-size="25.5" fill="#1a1a1a" text-anchor="end" >0</text>
<text transform="translate(636.80,1187.07) scale(1,1.03)" font-size="25.5" fill="#1a1a1a" text-anchor="end" >100</text>
<text transform="translate(636.80,1128.33) scale(1,1.03)" font-size="25.5" fill="#1a1a1a" text-anchor="end" >200</text>
<text transform="translate(636.80,1069.60) scale(1,1.03)" font-size="25.5" fill="#1a1a1a" text-anchor="end" >300</text>
<text transform="translate(636.80,1010.87) scale(1,1.03)" font-size="25.5" fill="#1a1a1a" text-anchor="end" >400</text>
<text transform="translate(636.80,952.13) scale(1,1.03)" font-size="25.5" fill="#1a1a1a" text-anchor="end" >500</text>
<text transform="translate(636.80,893.40) scale(1,1.03)" font-size="25.5" fill="#1a1a1a" text-anchor="end" >600</text>
<rect x="672.6" y="1017.16" width="43.60" height="220.84" fill="#00ff00" stroke="#138a13" stroke-width="1.3"/>
<rect x="716.2" y="1020.10" width="43.20" height="217.90" fill="#0039ff" stroke="#0a2a9a" stroke-width="1.3"/>
<line x1="694.40" y1="1014.70" x2="694.40" y2="1019.63" stroke="#000" stroke-width="2"/>
<line x1="688.40" y1="1014.70" x2="700.40" y2="1014.70" stroke="#000" stroke-width="2.6"/>
<line x1="688.40" y1="1019.63" x2="700.40" y2="1019.63" stroke="#000" stroke-width="2.6"/>
<line x1="737.80" y1="1017.87" x2="737.80" y2="1022.33" stroke="#000" stroke-width="2"/>
<line x1="731.80" y1="1017.87" x2="743.80" y2="1017.87" stroke="#000" stroke-width="2.6"/>
<line x1="731.80" y1="1022.33" x2="743.80" y2="1022.33" stroke="#000" stroke-width="2.6"/>
<rect x="816.8" y="1032.43" width="43.60" height="205.57" fill="#00ff00" stroke="#138a13" stroke-width="1.3"/>
<rect x="860.4" y="1050.64" width="43.60" height="187.36" fill="#0039ff" stroke="#0a2a9a" stroke-width="1.3"/>
<line x1="838.60" y1="1029.50" x2="838.60" y2="1035.37" stroke="#000" stroke-width="2"/>
<line x1="832.60" y1="1029.50" x2="844.60" y2="1029.50" stroke="#000" stroke-width="2.6"/>
<line x1="832.60" y1="1035.37" x2="844.60" y2="1035.37" stroke="#000" stroke-width="2.6"/>
<line x1="882.20" y1="1048.59" x2="882.20" y2="1052.70" stroke="#000" stroke-width="2"/>
<line x1="876.20" y1="1048.59" x2="888.20" y2="1048.59" stroke="#000" stroke-width="2.6"/>
<line x1="876.20" y1="1052.70" x2="888.20" y2="1052.70" stroke="#000" stroke-width="2.6"/>
<rect x="961.4" y="1024.80" width="43.60" height="213.20" fill="#00ff00" stroke="#138a13" stroke-width="1.3"/>
<rect x="1005" y="1030.08" width="43.60" height="207.92" fill="#0039ff" stroke="#0a2a9a" stroke-width="1.3"/>
<line x1="983.20" y1="1022.45" x2="983.20" y2="1027.15" stroke="#000" stroke-width="2"/>
<line x1="977.20" y1="1022.45" x2="989.20" y2="1022.45" stroke="#000" stroke-width="2.6"/>
<line x1="977.20" y1="1027.15" x2="989.20" y2="1027.15" stroke="#000" stroke-width="2.6"/>
<line x1="1026.80" y1="1026.27" x2="1026.80" y2="1033.90" stroke="#000" stroke-width="2"/>
<line x1="1020.80" y1="1026.27" x2="1032.80" y2="1026.27" stroke="#000" stroke-width="2.6"/>
<line x1="1020.80" y1="1033.90" x2="1032.80" y2="1033.90" stroke="#000" stroke-width="2.6"/>
<text transform="translate(694.20,1264.60) scale(1,1.03)" font-size="25" fill="#1a1a1a" text-anchor="start" textLength="45.5" lengthAdjust="spacingAndGlyphs" >1.00</text>
<text transform="translate(818.50,1267.90) scale(1,1.03)" font-size="25" fill="#1a1a1a" text-anchor="start" textLength="46.3" lengthAdjust="spacingAndGlyphs" >1.60</text>
<text transform="translate(987.50,1268.70) scale(1,1.03)" font-size="25" fill="#1a1a1a" text-anchor="start" textLength="46" lengthAdjust="spacingAndGlyphs" >3.15</text>
<text transform="translate(577,1044.3) rotate(-90)" x="0" y="0" font-size="25" fill="#1a1a1a" text-anchor="middle" textLength="200.5" lengthAdjust="spacingAndGlyphs">Hardness (HV 0.2)</text>
<text transform="translate(779.90,1291.10) scale(1,1.03)" font-size="25" fill="#1a1a1a" text-anchor="start" textLength="157.5" lengthAdjust="spacingAndGlyphs" >Diameter (mm)</text>
<text transform="translate(651.00,936.20) scale(1,1.03)" font-size="54.5" fill="#1a1a1a" text-anchor="start" textLength="54" lengthAdjust="spacingAndGlyphs" >(f)</text>
<rect x="766" y="881.3" width="310" height="107.5" fill="#fff" stroke="#999" stroke-width="1"/>
<rect x="771" y="989" width="306" height="4.5" fill="#000"/>
<rect x="1074" y="884" width="3.5" height="109" fill="#000"/>
<text transform="translate(841.00,908.00) scale(1,1.03)" font-size="24" fill="#1a1a1a" text-anchor="start" textLength="150" lengthAdjust="spacingAndGlyphs"><tspan dy="0" font-size="24">Al</tspan><tspan dy="10.5" font-size="14">0.3</tspan><tspan dy="-10.5" font-size="24">CoCrFeNi</tspan></text>
<rect x="775" y="929" width="58" height="22" fill="#0039ff" stroke="#0a2a9a" stroke-width="1"/>
<rect x="775" y="962" width="58" height="22" fill="#00ff00" stroke="#138a13" stroke-width="1"/>
<text transform="translate(843.00,949.00) scale(1,1.03)" font-size="24" fill="#1a1a1a" text-anchor="start" textLength="193" lengthAdjust="spacingAndGlyphs" >Transverse section</text>
<text transform="translate(848.00,981.50) scale(1,1.03)" font-size="24" fill="#1a1a1a" text-anchor="start" textLength="214" lengthAdjust="spacingAndGlyphs" >Longitudinal section</text>
<g>
<ellipse cx="905" cy="1246" rx="16.5" ry="14.5" fill="#fff" stroke="none"/>
<path d="M894.4,1261.3 L897,1257 C889,1252 888,1240 896,1235.5 C903,1231 915,1231.5 920,1238 C923,1242 922,1246 920,1249 Z" fill="#fff" stroke="none"/>
<path d="M920,1244 C921,1238 913,1232.5 904,1233.3 C894,1234 888,1242 890,1250 C891,1254 894,1257 897,1258.5 L894.2,1261.8 L900,1259.5" fill="none" stroke="#9a9a9a" stroke-width="0.9"/>
<ellipse cx="918.9" cy="1256.3" rx="13.3" ry="12.2" fill="#fff" stroke="none"/>
<path d="M929.5,1263.5 C933,1258 932,1250 927,1246.5 C921,1242 912,1243 907.5,1248 C903,1253 904,1262 910,1266 C915,1269.5 922,1269 926,1267 L929,1270 Z" fill="#fff" stroke="#8c8c8c" stroke-width="0.9"/>
<circle cx="899.2" cy="1241.3" r="1.4" fill="none" stroke="#999" stroke-width="0.8"/>
<circle cx="910.6" cy="1241.3" r="1.4" fill="none" stroke="#999" stroke-width="0.8"/>
<circle cx="913.9" cy="1251.6" r="1.4" fill="none" stroke="#999" stroke-width="0.8"/>
<circle cx="923.9" cy="1251.6" r="1.4" fill="none" stroke="#999" stroke-width="0.8"/>
</g>
<path d="M939.80,1247.39 L950.01,1247.39 M944.90,1240.50 L944.90,1266.10 M944.90,1248.38 L939.80,1259.21 M944.90,1251.33 L948.99,1254.28 M951.03,1248.38 L964.30,1248.38 M959.20,1240.50 L959.20,1265.12 L956.13,1263.15 M959.20,1250.35 L951.03,1260.19" fill="none" stroke="#fff" stroke-width="3.2" stroke-linecap="round" stroke-linejoin="round" opacity="0.95"/>
<path d="M939.80,1247.39 L950.01,1247.39 M944.90,1240.50 L944.90,1266.10 M944.90,1248.38 L939.80,1259.21 M944.90,1251.33 L948.99,1254.28 M951.03,1248.38 L964.30,1248.38 M959.20,1240.50 L959.20,1265.12 L956.13,1263.15 M959.20,1250.35 L951.03,1260.19" fill="none" stroke="#7c7c7c" stroke-width="1.3" stroke-linecap="round" stroke-linejoin="round"/>
<path d="M967.76,1242.47 L968.69,1246.41 M974.26,1242.47 L973.33,1246.41 M965.90,1249.36 L976.12,1249.36 M971.01,1240.50 L971.01,1266.10 M971.01,1250.35 L965.90,1260.19 M971.01,1251.33 L976.12,1257.24 M978.91,1244.44 L980.77,1246.41 M978.91,1250.35 L980.77,1252.32 M977.05,1258.22 L988.20,1256.25 M984.48,1240.50 L984.48,1266.10" fill="none" stroke="#fff" stroke-width="3.2" stroke-linecap="round" stroke-linejoin="round" opacity="0.95"/>
<path d="M967.76,1242.47 L968.69,1246.41 M974.26,1242.47 L973.33,1246.41 M965.90,1249.36 L976.12,1249.36 M971.01,1240.50 L971.01,1266.10 M971.01,1250.35 L965.90,1260.19 M971.01,1251.33 L976.12,1257.24 M978.91,1244.44 L980.77,1246.41 M978.91,1250.35 L980.77,1252.32 M977.05,1258.22 L988.20,1256.25 M984.48,1240.50 L984.48,1266.10" fill="none" stroke="#7c7c7c" stroke-width="1.3" stroke-linecap="round" stroke-linejoin="round"/>
<path d="M999.27,1240.50 L1001.13,1244.44 M1004.87,1240.50 L1005.80,1244.44 M1011.40,1240.50 L1009.53,1244.44 M995.53,1249.36 L995.53,1246.41 L1016.07,1246.41 L1015.13,1249.36 M1000.20,1251.33 L1010.47,1251.33 L1005.80,1255.27 M1005.80,1255.27 L1005.80,1265.12 L1003.00,1264.13 M995.53,1258.22 L1016.07,1258.22" fill="none" stroke="#fff" stroke-width="3.2" stroke-linecap="round" stroke-linejoin="round" opacity="0.95"/>
<path d="M999.27,1240.50 L1001.13,1244.44 M1004.87,1240.50 L1005.80,1244.44 M1011.40,1240.50 L1009.53,1244.44 M995.53,1249.36 L995.53,1246.41 L1016.07,1246.41 L1015.13,1249.36 M1000.20,1251.33 L1010.47,1251.33 L1005.80,1255.27 M1005.80,1255.27 L1005.80,1265.12 L1003.00,1264.13 M995.53,1258.22 L1016.07,1258.22" fill="none" stroke="#7c7c7c" stroke-width="1.3" stroke-linecap="round" stroke-linejoin="round"/>
<path d="M1023.07,1266.10 L1023.07,1242.47 L1040.83,1242.47 L1040.83,1265.12 L1038.16,1264.13 M1026.62,1247.39 L1031.06,1260.19 M1031.06,1248.38 L1026.62,1260.19 M1032.84,1247.39 L1037.27,1260.19 M1037.27,1248.38 L1032.84,1260.19" fill="none" stroke="#fff" stroke-width="3.2" stroke-linecap="round" stroke-linejoin="round" opacity="0.95"/>
<path d="M1023.07,1266.10 L1023.07,1242.47 L1040.83,1242.47 L1040.83,1265.12 L1038.16,1264.13 M1026.62,1247.39 L1031.06,1260.19 M1031.06,1248.38 L1026.62,1260.19 M1032.84,1247.39 L1037.27,1260.19 M1037.27,1248.38 L1032.84,1260.19" fill="none" stroke="#7c7c7c" stroke-width="1.3" stroke-linecap="round" stroke-linejoin="round"/>
</svg></body></html>
